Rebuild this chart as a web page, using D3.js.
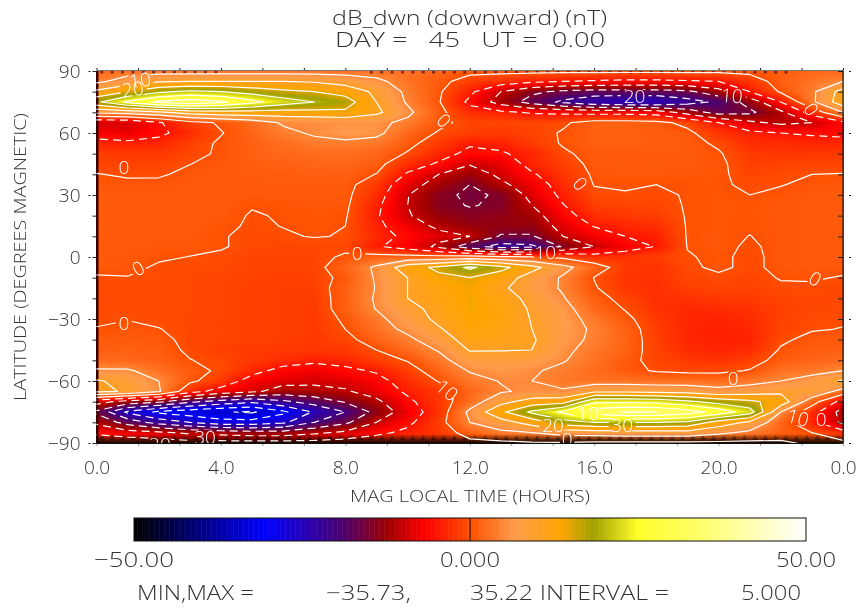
<!DOCTYPE html>
<html>
<head>
<meta charset="utf-8">
<script src="https://cdn.jsdelivr.net/npm/d3@7"></script>
<style>
html, body { margin: 0; padding: 0; background: #fff; }
#wrap { position: relative; width: 861px; height: 610px; overflow: hidden; }
canvas, svg { position: absolute; left: 0; top: 0; }
text { font-family: "Open Sans", "DejaVu Sans", sans-serif; font-weight: 300; fill: #333; }
</style>
</head>
<body>
<div id="wrap"></div>
<script>
// magnetic local time columns (hours) and latitude rows (degrees)
const hours = d3.range(0, 25)
const lats = d3.range(90, -91, -5)

// dB_dwn in nT, one row per latitude, one value per hour
const dB = [
  [2,3,3,3,3,3,3,3,3,3,3,2,1,1,1,1,1,1,1,1,1,1,1,2,2],
  [4,7,9.5,10,10,10,10,9.5,8,6,3,1,-1.5,-2.5,-4,-5,-5.5,-6,-6,-5.5,-5,-2,1.5,3,5],
  [11,15,19,21,20,18,16,15,13,9,4,.5,-4,-10,-14,-16,-17,-17,-17,-16,-12,-5,.5,4,12],
  [19,26,31,33,31,26.5,22.5,20,17.5,10,4.5,.3,-6,-12,-17,-21,-24,-25,-25,-22,-19,-13,-5,4,13],
  [6,7,9,12,13,13,13,13.5,14,11,6,1,-3,-4,-5.5,-6,-6.5,-6.5,-7,-12,-17,-16,-11,-3,5],
  [-9,-9,-5.5,-1.5,.5,2.5,5.5,5.5,6,6,4,.8,-1,-1,-1,-.5,1.5,1.5,1,-1,-5,-9,-11,-10,-6],
  [-7,-8,-6,-3,-.2,2,4,5.5,7,6,2,-.3,-1.5,-1.8,-1.2,.3,1.5,1.5,1.2,.8,-2.5,-4,-5,-5.5,-6],
  [-3.5,-4,-3.5,-1.5,.5,1.5,2.7,3.9,4,3.5,1,-1.8,-4.5,-3.8,-1.8,.3,1.5,1.5,1.2,1,-.5,-3,-3.2,-3.5,-3.5],
  [-1.8,-2,-2,-.8,.4,1.5,2,2.5,2.7,2,-.3,-3.5,-6,-5.5,-3.5,-.5,1,1,1,1,.3,-2,-2.2,-2.2,-2],
  [-1,-1.2,-1.1,-.05,.8,1.3,1.6,1.8,2,1.2,-3,-5.5,-9.7,-8,-3.5,-1.5,.8,1,1,.8,.6,-1.5,-1.2,-1,-1],
  [.1,-.3,-.3,.6,.9,1,1.2,1.3,1.5,-.1,-5.5,-10,-12.5,-9,-5.5,-2.2,.4,.8,.7,.6,.5,-1,-.6,0,.1],
  [.7,.5,.6,.8,.9,.9,1,1,1,-2,-8,-12,-15,-11,-7.5,-3,.1,.3,0,.3,.4,-.5,-.1,.5,.7],
  [.9,.8,.8,.8,.9,.8,.8,.8,.8,-3,-9.8,-14,-15.7,-14.5,-8.5,-4,-.5,-.2,-.5,.2,.4,0,.5,.8,.9],
  [.9,.8,.8,.8,.9,.15,.5,.6,.6,-4,-10,-14,-15.2,-14.5,-10,-5.2,-1.5,-1,-.9,.2,.5,.5,.7,.8,.9],
  [.9,.8,.8,.8,.8,-.2,.2,.4,.3,-4.5,-9.5,-13,-14,-13.5,-12,-6.5,-3,-2,-1.6,.2,.5,.3,.7,.8,.9],
  [.9,.8,.8,.8,.5,-.3,.05,.3,0,-4,-7.5,-11,-13,-13,-13,-8.5,-4.8,-3.5,-2.8,.2,.5,.3,.7,.8,.9],
  [.9,.8,.8,.8,.2,-.6,-.2,.1,-.1,-3.3,-6,-8.5,-10,-15.5,-15.5,-10,-7.2,-5,-4,.2,.7,-.05,.7,.8,.9],
  [.8,.8,.7,.6,.2,-.6,-.9,-.8,-.8,-4.5,-7,-11,-18,-22,-21,-14.5,-10,-7,-4.8,.1,.7,-.4,.7,.8,.8],
  [.8,.7,.3,-.05,-.4,-1,-1,-1,.5,1.5,1.5,1.5,2,1,.3,-1,-3,-2.5,-1.5,-.2,.5,-.6,.7,.8,.8],
  [.8,.6,-.3,-.5,-.6,-1,-1,-1,1.9,5.7,13,16,21,16.5,11.5,6.5,2,-2,-2.5,-.5,.5,-.6,.7,.8,.7],
  [-.3,-.1,-.5,-.7,-.9,-1.2,-1.4,-1.2,.8,5.5,10,14,15,12.5,8,4.5,-.1,-2.5,-2.5,-1,-.5,-1,.2,.3,-.2],
  [-.5,-.5,-.6,-.7,-.9,-1.3,-1.6,-1.5,1.6,5.2,10,12.5,14,10.8,7.5,4.5,.3,-2.2,-2.8,-1.5,-1,-1.2,-.5,-.5,-.8],
  [-.6,-.6,-.7,-.7,-.9,-1.3,-1.6,-1.7,1.5,5.5,10,12,14,12,8.8,5.3,1.4,-1.2,-2.8,-2.5,-2,-1.8,-1,-.8,-.8],
  [-.6,-.5,-.6,-.7,-.9,-1.3,-1.6,-1.8,1.5,5.2,8.5,11.5,14,12.5,9.5,6.5,2.1,-.2,-2.6,-3.5,-3,-2.5,-1.3,-.8,-.6],
  [-.3,-.1,-.5,-.8,-.9,-1.3,-1.6,-2,.6,3.8,7.5,11,13.5,12.5,9.8,7,3.5,.8,-2,-3.5,-3.8,-3,-1.3,-.5,-.3],
  [.1,.6,.1,-.8,-.9,-1.3,-1.6,-2,0,3,6,9.5,13,12,10,7.2,4.3,1.5,-1.6,-3.5,-4,-3.5,-1,-.2,.1],
  [.9,1,.8,-.8,-1,-1.4,-1.7,-2,-1,1.7,4,7.5,12,11.5,10.5,6.8,4.1,1.8,-1.5,-3.5,-4,-3.8,-.5,.8,.9],
  [1.3,1.5,1.2,-.5,-1.5,-2,-2,-2.3,-2,0,2.5,5.3,10.3,10.2,10,6,3.4,1.6,-1.3,-3,-3.7,-3,.3,1.2,1.5],
  [2.5,2,1.5,.1,-.8,-2,-3,-4,-3.5,-1.5,.2,3.5,7.7,8,7.5,5.3,3,1,-1,-2,-2.5,-1.5,1.2,1.8,2.5],
  [5.5,5.5,3,1,-.5,-3.5,-6.5,-7.5,-6,-4.5,-1.5,1.8,5.3,6.5,5.5,4,2.4,.9,-.3,-.8,-.8,.2,3,3.5,5],
  [10.5,8.5,5,.7,-2,-7,-8.5,-9,-8.5,-6.5,-3,.2,3.5,5.2,5,3.5,3,3,2.8,2.8,2.5,3.5,5,7,10.5],
  [11,9.5,5.5,-3,-7,-9,-12,-11.5,-10.5,-8,-4.2,-2,2,4.5,6,5.5,9,9,8.5,8,6.5,7.5,9,9,3],
  [-8,-12,-14,-19,-22,-24,-21,-18,-14.5,-11,-6,-2,2.5,8.5,12,13,24,24,23.5,21,18,16,13,2,-7],
  [-16,-26,-31,-33,-34.5,-35.7,-31,-24.5,-20,-13.5,-7.5,-2.5,6,14,21,26,33,35.2,35,32.5,28,22.5,5,-3,-12],
  [-11,-17,-22,-25,-28,-28,-26,-20,-16,-10,-6,-1.5,5,8,12,18,20,20,20,19,13,9,2,-4,-11],
  [-6,-8,-9,-11,-12,-13,-13,-11,-9,-6,-4,-2,1.5,4,5,7,7.5,8,8,8,6,4,1.5,0,-3],
  [-1,-1,-2,-3,-3,-3,-3,-3,-2.5,-2,-1.5,-2,-1,-1,-.5,-.5,-1,-1,-1,-1,-1,-1,-.5,.5,1]
]

const levels = d3.range(-35, 36, 5)
const colorStops = [-50, -30.5, -19, -12.2, -6.7, 0, 6.7, 13.6, 18.3, 25, 35, 50]
const colorValues = ["#000000", "#0000ff", "#4b0070", "#a00000", "#ff0000", "#ff5000", "#ff9b4b", "#ffa500", "#a0a000", "#ffff28", "#ffff70", "#ffffff"]

const yTicks = d3.range(-90, 91, 30)
const yMinor = d3.range(-90, 91, 10)
const xTicks = d3.range(0, 25, 4)
const xMinor = d3.range(0, 24.01, 4 / 3)

// label text, hour, latitude, tilt
const labelText = ["10","20","0","0","0","20","10","0","0","10","0","0","10","0","0","10","20","30","10","0","0","30","20","10"]
const labelHour = [1.4,1.17,.88,11.17,15.55,17.3,20.43,22.98,8.38,14.43,1.34,.88,11.27,20.47,23.1,15.8,14.68,16.9,22.55,23.3,15.13,3.49,2.04,1.73]
const labelLat = [85.5,81.2,43.5,66,35.5,78,78,71.5,1.8,2.3,-5.5,-31.8,-64.5,-58.6,-10.6,-75.8,-81.3,-81.3,-77.7,-78.4,-88,-87.4,-90.7,-94]
const labelTilt = [-8,-8,0,45,50,0,5,55,0,0,-30,0,40,0,30,0,0,0,15,0,0,0,0,0]

const plot = { left: 96.5, right: 843, top: 71, bottom: 443 }
const x = d3.scaleLinear().domain([0, 24]).range([plot.left, plot.right])
const y = d3.scaleLinear().domain([90, -90]).range([plot.top, plot.bottom])
const color = d3.scaleLinear().domain(colorStops).range(colorValues).clamp(true)

var wrap = d3.select("#wrap")

// raster underneath the svg
var canvas = wrap.append("canvas").attr("width", 861).attr("height", 610)
var ctx = canvas.node().getContext("2d")
var pw = Math.round(plot.right - plot.left), ph = Math.round(plot.bottom - plot.top)
var img = ctx.createImageData(pw, ph)
for (let py = 0; py < ph; py++) {
  let row = (90 - y.invert(plot.top + py + .5)) / 5
  let r0 = Math.min(Math.floor(row), lats.length - 2), rf = row - r0
  for (let px = 0; px < pw; px++) {
    let col = x.invert(plot.left + px + .5)
    let c0 = Math.min(Math.floor(col), hours.length - 2), cf = col - c0
    let v = (dB[r0][c0] * (1 - cf) + dB[r0][c0 + 1] * cf) * (1 - rf) + (dB[r0 + 1][c0] * (1 - cf) + dB[r0 + 1][c0 + 1] * cf) * rf
    let c = d3.rgb(color(v)), i = (py * pw + px) * 4
    img.data[i] = c.r; img.data[i + 1] = c.g; img.data[i + 2] = c.b; img.data[i + 3] = 255
  }
}
ctx.putImageData(img, Math.round(plot.left), plot.top)

var svg = wrap.append("svg").attr("width", 861).attr("height", 610)
var defs = svg.append("defs")
defs.append("clipPath").attr("id", "plotclip").append("rect")
  .attr("x", plot.left).attr("y", plot.top - 1).attr("width", plot.right - plot.left).attr("height", plot.bottom - plot.top + 1)

// holes in the contour lines where the labels sit
var mask = defs.append("mask").attr("id", "labelgaps").attr("maskUnits", "userSpaceOnUse")
  .attr("x", 0).attr("y", 0).attr("width", 861).attr("height", 610)
mask.append("rect").attr("width", 861).attr("height", 610).attr("fill", "#fff")
labelText.forEach(function(t, i) {
  mask.append("ellipse").attr("cx", x(labelHour[i])).attr("cy", y(labelLat[i]))
    .attr("rx", t.length > 1 ? 14 : 8).attr("ry", 8).attr("fill", "#000")
})

// edge artifacts of the image: dark left column, toothed top and bottom rows
var edges = svg.append("g")
edges.append("rect").attr("x", plot.left - .5).attr("y", plot.top).attr("width", 2.5).attr("height", plot.bottom - plot.top).attr("fill", "#3a0000")
var bottomFade = defs.append("linearGradient").attr("id", "fade").attr("x1", 0).attr("x2", 0).attr("y1", 0).attr("y2", 1)
bottomFade.append("stop").attr("offset", 0).attr("stop-color", "#000").attr("stop-opacity", 0)
bottomFade.append("stop").attr("offset", .6).attr("stop-color", "#000").attr("stop-opacity", .65)
bottomFade.append("stop").attr("offset", 1).attr("stop-color", "#000").attr("stop-opacity", 1)
edges.append("rect").attr("x", plot.left).attr("y", plot.bottom - 9).attr("width", plot.right - plot.left).attr("height", 10).attr("fill", "url(#fade)")
edges.selectAll("path.tooth").data(d3.range(.17, 24, 1 / 3)).enter().append("path")
  .attr("class", "tooth")
  .attr("d", function(h) { return "M" + (x(h) - 3) + "," + (plot.bottom - 3) + "l3,-5l3,5z" })
  .attr("fill", "#000").attr("opacity", .35)
edges.selectAll("rect.top").data(d3.range(.17, 24, 1 / 3).filter(function(h) { return h < 4 || h > 8.6 && h < 22.5 })).enter().append("rect")
  .attr("class", "top").attr("x", function(h) { return x(h) - 1.5 }).attr("y", plot.top).attr("width", 3).attr("height", 2.5)
  .attr("fill", "#300").attr("opacity", .6)

// contours: data point i sits at grid coordinate i + .5
var flat = d3.merge(dB)
var contours = d3.contours().size([hours.length, lats.length]).thresholds(levels)(flat)
var gridX = d3.scaleLinear().domain([.5, hours.length - .5]).range([x(0), x(24)])
var gridY = d3.scaleLinear().domain([.5, lats.length - .5]).range([y(90), y(-90)])
var path = d3.geoPath(d3.geoTransform({
  point: function(px, py) { this.stream.point(gridX(px), gridY(py)) }
}))
svg.append("g").attr("clip-path", "url(#plotclip)")
  .append("g").attr("mask", "url(#labelgaps)")
  .selectAll("path").data(contours).enter().append("path")
  .attr("d", path)
  .attr("fill", "none")
  .attr("stroke", "#fff")
  .attr("stroke-width", 1.2)
  .attr("stroke-linejoin", "round")
  .attr("stroke-dasharray", function(d) { return d.value < 0 ? "8,5" : null })

// contour labels
svg.append("g").selectAll("text").data(labelText).enter().append("text")
  .attr("transform", function(d, i) { return "translate(" + x(labelHour[i]) + "," + y(labelLat[i]) + ") rotate(" + labelTilt[i] + ")" })
  .attr("dy", "0.36em").attr("text-anchor", "middle")
  .style("fill", "#fff").style("font-size", "19px")
  .text(function(d) { return d })

// frame
var frame = svg.append("g").attr("fill", "none")
frame.append("line").attr("x1", plot.left).attr("x2", plot.right).attr("y1", 70.5).attr("y2", 70.5).attr("stroke", "#777")
frame.append("line").attr("x1", plot.right).attr("x2", plot.right).attr("y1", 70).attr("y2", plot.bottom + 1).attr("stroke", "#000")
frame.append("line").attr("x1", plot.left).attr("x2", plot.right).attr("y1", plot.bottom + .5).attr("y2", plot.bottom + .5).attr("stroke", "#111")

// axes
function styleAxis(g) {
  g.select(".domain").remove()
  g.selectAll("line").attr("stroke", "#222")
  g.selectAll("text").style("font-size", "19px").style("fill", "#333")
}
svg.append("g").attr("transform", "translate(" + plot.left + ",0)")
  .call(d3.axisLeft(y).tickValues(yMinor).tickSize(4).tickFormat(""))
  .call(styleAxis)
svg.append("g").attr("transform", "translate(" + (plot.left - 6) + ",0)")
  .call(d3.axisLeft(y).tickValues(yTicks).tickSize(2).tickPadding(8).tickFormat(d3.format("d")))
  .call(styleAxis)
svg.append("g").attr("transform", "translate(" + plot.right + ",0)")
  .call(d3.axisRight(y).tickValues(yMinor).tickSize(-5).tickFormat(""))
  .call(styleAxis)
svg.append("g").attr("transform", "translate(" + (plot.right + 6) + ",0)")
  .call(d3.axisRight(y).tickValues(yTicks).tickSize(2).tickFormat(""))
  .call(styleAxis)
svg.append("g").attr("transform", "translate(0,70)")
  .call(d3.axisTop(x).tickValues(xMinor).tickSize(2).tickFormat(""))
  .call(styleAxis)
svg.append("g").attr("transform", "translate(0," + (plot.bottom + 1) + ")")
  .call(d3.axisBottom(x).tickValues(xMinor).tickSize(2).tickFormat(""))
  .call(styleAxis)
  .selectAll("line").attr("stroke", "#999")
svg.append("g").attr("transform", "translate(0,460)")
  .call(d3.axisBottom(x).tickValues(xTicks).tickSize(0).tickPadding(0).tickFormat(function(h) { return (h % 24).toFixed(1) }))
  .call(styleAxis)
  .selectAll("text").attr("dy", "0.71em").style("font-size", "19px")

function label(t, px, py, size, width, anchor) {
  var n = svg.append("text").attr("x", px).attr("y", py).attr("text-anchor", anchor || "middle")
    .style("font-size", size + "px").style("white-space", "pre").text(t)
  if (width) n.attr("textLength", width).attr("lengthAdjust", "spacingAndGlyphs")
  return n
}

label("dB_dwn (downward) (nT)", 469.5, 25, 21, 275)
label("DAY =   45   UT =  0.00", 470, 47, 21, 270)
label("MAG LOCAL TIME (HOURS)", 470, 502, 16, 240)
svg.append("text").attr("transform", "translate(26,257) rotate(-90)").attr("text-anchor", "middle")
  .style("font-size", "16px").attr("textLength", 288).attr("lengthAdjust", "spacingAndGlyphs")
  .text("LATITUDE (DEGREES MAGNETIC)")

// colour bar
var bar = d3.scaleLinear().domain([-50, 50]).range([134, 806])
svg.append("g").selectAll("rect").data(d3.range(-50, 50, .25)).enter().append("rect")
  .attr("x", function(d) { return bar(d) }).attr("y", 518)
  .attr("width", bar(.25) - bar(0) + .5).attr("height", 23)
  .attr("fill", function(d) { return color(d + .125) })
svg.append("rect").attr("x", 134).attr("y", 518).attr("width", 672).attr("height", 23)
  .attr("fill", "none").attr("stroke", "#111").attr("stroke-width", 1)
svg.append("line").attr("x1", bar(0)).attr("x2", bar(0)).attr("y1", 518).attr("y2", 541).attr("stroke", "#111")

label("\u221250.00", 134, 567, 21, 80)
label("0.000", 470, 567, 21, 60)
label("50.00", 806, 567, 21, 60)

label("MIN,MAX =", 137, 600, 20, 117, "start")
label("\u221235.73,", 326, 600, 20, 85, "start")
label("35.22 INTERVAL =", 470, 600, 20, 199, "start")
label("5.000", 741, 600, 20, 60, "start")
</script>
</body>
</html>
